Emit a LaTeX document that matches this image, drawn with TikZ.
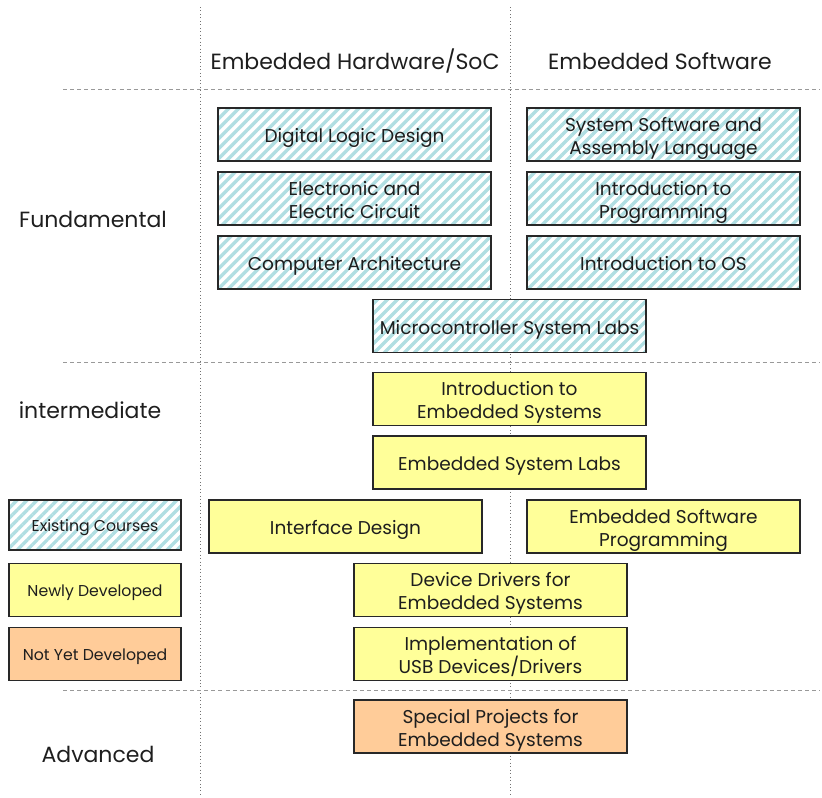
\documentclass[tikz,border=0pt]{standalone}
\usepackage{fontspec}
\setmainfont{Poppins}
\usetikzlibrary{patterns.meta}
\definecolor{hatchblue}{RGB}{176,222,226}
\definecolor{newyellow}{RGB}{255,255,153}
\definecolor{notyet}{RGB}{255,204,153}
\definecolor{boxline}{RGB}{40,40,40}
\definecolor{txt}{RGB}{30,30,30}
\newcommand\twol[2]{\vbox{\halign{\hfil##\hfil\cr\rule{0pt}{17.3pt}#1\cr #2\cr}}}
\tikzset{
  boxbase/.style={draw=boxline, line width=1.1pt, rectangle, inner sep=0pt, text=txt},
  course/.style={boxbase, minimum width=204.75pt, minimum height=39.75pt,
    font=\fontsize{13.9}{17.25}\selectfont,
    execute at begin node={\rule{0pt}{17.3pt}},
    execute at end node={\rule[-5pt]{0pt}{0pt}}},
  legend/.style={boxbase, minimum width=129pt, minimum height=39.75pt,
    font=\fontsize{11.8}{14}\selectfont,
    execute at begin node={\rule{0pt}{13pt}},
    execute at end node={\rule[-4pt]{0pt}{0pt}}},
  existing/.style={preaction={fill=white}, pattern={Lines[angle=45,distance=5.3pt,line width=2.5pt]}, pattern color=hatchblue},
  newdev/.style={fill=newyellow},
  notdev/.style={fill=notyet},
  header/.style={font=\fontsize{16.5}{20}\selectfont, text=txt, inner sep=0pt},
  sepline/.style={dashed, dash pattern=on 3pt off 2.3pt, draw=gray!80, line width=0.6pt},
  colline/.style={dotted, draw=gray!90!black, line width=0.6pt},
}
\begin{document}
\begin{tikzpicture}[x=0.75pt,y=-0.75pt]
\useasboundingbox (0,0) rectangle (822,797);
% grid lines
\coordinate (v1t) at (200,7); \coordinate (v1b) at (200,797);
\coordinate (v2t) at (510,7); \coordinate (v2b) at (510,797);
\coordinate (h1l) at (63,89); \coordinate (h1r) at (820,89);
\coordinate (h2l) at (63,362); \coordinate (h2r) at (820,362);
\coordinate (h3l) at (63,690); \coordinate (h3r) at (820,690);
\draw[colline] (v1t) -- (v1b);
\draw[colline] (v2t) -- (v2b);
\draw[sepline] (h1l) -- (h1r);
\draw[sepline] (h2l) -- (h2r);
\draw[sepline] (h3l) -- (h3r);
% headers
\node[header] (hw) at (355,61) {Embedded Hardware/SoC};
\node[header] (sw) at (660,61) {Embedded Software};
\node[header] (fund) at (93,219) {Fundamental};
\node[header] (inter) at (90,410) {intermediate};
\node[header] (adv) at (98,754) {Advanced};
% fundamental
\node[course,existing] (dld) at (354.5,134.5) {Digital Logic Design};
\node[course,existing] (eec) at (354.5,198.5) {\twol{Electronic and}{Electric Circuit}};
\node[course,existing] (ca) at (354.5,262.5) {Computer Architecture};
\node[course,existing] (ssal) at (663.5,134.5) {\twol{System Software and}{Assembly Language}};
\node[course,existing] (itp) at (663.5,198.5) {\twol{Introduction to}{Programming}};
\node[course,existing] (ios) at (663.5,262.5) {Introduction to OS};
\node[course,existing] (msl) at (509.5,326) {Microcontroller System Labs};
% intermediate
\node[course,newdev] (ies) at (509.5,399) {\twol{Introduction to}{Embedded Systems}};
\node[course,newdev] (esl) at (509.5,462.5) {Embedded System Labs};
\node[course,newdev] (id) at (345.5,526.5) {Interface Design};
\node[course,newdev] (esp) at (663.5,526.5) {\twol{Embedded Software}{Programming}};
\node[course,newdev] (dd) at (490.5,590) {\twol{Device Drivers for}{Embedded Systems}};
\node[course,newdev] (usb) at (490.5,654) {\twol{Implementation of}{USB Devices/Drivers}};
% advanced
\node[course,notdev] (sp) at (490.5,726.5) {\twol{Special Projects for}{Embedded Systems}};
% legend
\node[legend,existing,minimum height=37.5pt] (lg1) at (95,525) {Existing Courses};
\node[legend,newdev] (lg2) at (95,590) {Newly Developed};
\node[legend,notdev] (lg3) at (95,654) {Not Yet Developed};
\end{tikzpicture}
\end{document}
